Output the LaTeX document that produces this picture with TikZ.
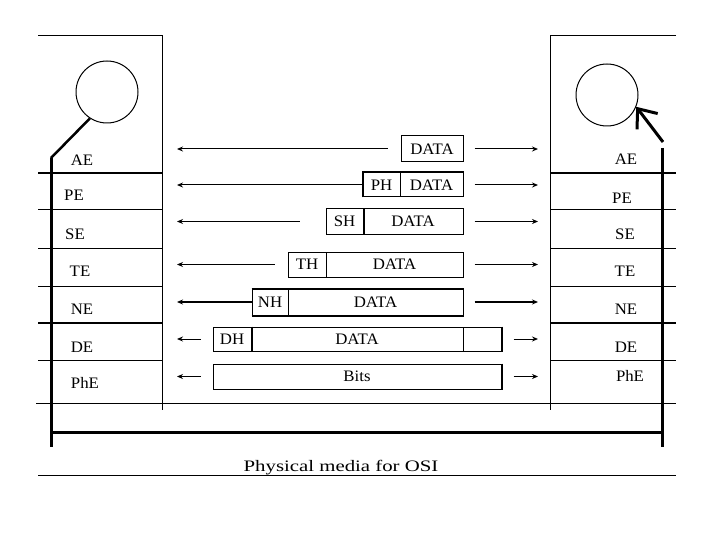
\documentclass[tikz,border=0pt]{standalone}
\usepackage{fontspec}
\setmainfont{Liberation Serif}
\newfontfamily\lblfamily[FakeStretch=1.05]{Liberation Serif}
\newfontfamily\medfamily[FakeStretch=1.3]{Liberation Serif}
\usetikzlibrary{arrows.meta}
\newcommand\osifont{\lblfamily\fontsize{16}{19}\selectfont}
\begin{document}
\begin{tikzpicture}[x=1pt,y=-1pt,
  thin line/.style={line width=1pt},
  thick line/.style={line width=2pt},
  heavy line/.style={line width=3pt},
  cell/.style={draw, line width=1pt, inner sep=0pt, minimum height=25pt,
               text height=10.5pt, text depth=0pt, font=\osifont},
  layer/.style={inner sep=0pt, text height=10.5pt, text depth=0pt, font=\osifont},
  arr/.style={-{Stealth[length=6pt,width=5pt]}, line width=1pt},
  arrb/.style={-{Stealth[length=6pt,width=5pt]}, line width=1.8pt},
  ring/.style={circle, draw, line width=1pt, minimum size=62pt, inner sep=0pt}]
\useasboundingbox (0,0) rectangle (720,540);

% ---------- end systems ----------
\draw[thin line] (38,36) -- (162,36) -- (162,410);
\draw[thin line] (676,36) -- (550,36) -- (550,410);
\foreach \yy in {210,248,286,360} {
  \draw[thin line] (38,\yy) -- (162,\yy);
  \draw[thin line] (550,\yy) -- (676,\yy);
}
\foreach \yy in {173,323} {
  \draw[thick line] (38,\yy) -- (162,\yy);
  \draw[thick line] (550,\yy) -- (676,\yy);
}
\draw[thin line] (36,403) -- (676,403);

\node[ring] (lc) at (107,92) {};
\node[ring] (rc) at (607,95) {};
\coordinate (lt) at (51,158);
\coordinate (lb) at (51,447);
\coordinate (rt) at (662,148);
\coordinate (rs) at (663,142);
\coordinate (rb) at (662,447);
\draw[line width=2.5pt] (lc.237) -- (lt);
\draw[heavy line] (lt) -- (lb);
\draw[heavy line] (rt) -- (rb);
\draw[heavy line, -{Straight Barb[length=16pt,width=26pt,line width=3pt]}] (rs) -- (rc.338);
\draw[heavy line] (51,432) -- (662,432);

% layer labels
\node[layer] (lae) at (82,160) {AE};
\node[layer] (lpe) at (74,195) {PE};
\node[layer] (lse) at (75,234) {SE};
\node[layer] (lte) at (80,271) {TE};
\node[layer] (lne) at (82,309) {NE};
\node[layer] (lde) at (82,347) {DE};
\node[layer] (lphe) at (85,383) {PhE};
\node[layer] (rae) at (626,159) {AE};
\node[layer] (rpe) at (622,198) {PE};
\node[layer] (rse) at (625,234) {SE};
\node[layer] (rte) at (625,271) {TE};
\node[layer] (rne) at (626,309) {NE};
\node[layer] (rde) at (626,347) {DE};
\node[layer] (rphe) at (630,376) {PhE};

% ---------- PDUs ----------
% row 1
\node[cell, minimum width=62pt, minimum height=26pt] (d1) at (432,149) {DATA};
% row 2
\node[cell, minimum width=37pt, minimum height=24pt] (h2) at (381.5,185) {PH};
\node[cell, minimum width=63pt, minimum height=24pt] (d2) at (431.5,185) {DATA};
\draw[thick line] (h2.south west) -- (h2.north west) -- (d2.north east);
% row 3
\node[cell, minimum width=37pt] (h3) at (344.5,221.5) {SH};
\node[cell, minimum width=100pt] (d3) at (413,221.5) {DATA};
\draw[thick line] (h3.north east) -- (h3.south east);
% row 4
\node[cell, minimum width=38pt] (h4) at (307,264.5) {TH};
\node[cell, minimum width=137pt] (d4) at (394.5,264.5) {DATA};
% row 5
\node[cell, minimum width=36pt, minimum height=26pt] (h5) at (270,302) {NH};
\node[cell, minimum width=175pt, minimum height=26pt] (d5) at (375.5,302) {DATA};
\draw[thick line] (h5.north west) -- (d5.north east);
\draw[thick line] (h5.south west) -- (d5.south east);
% row 6
\node[cell, minimum width=38pt, minimum height=24pt] (h6) at (232,339) {DH};
\node[cell, minimum width=212pt, minimum height=24pt] (d6) at (357,339) {DATA};
\node[cell, minimum width=38pt, minimum height=24pt] (t6) at (482,339) {};
\draw[thick line] (h6.north east) -- (h6.south east);
\draw[thick line] (t6.north east) -- (t6.south east);
% row 7
\node[cell, minimum width=288pt] (b7) at (357,376.5) {Bits};
\draw[thick line] (b7.north east) -- (b7.south east);

% arrows
\foreach \n/\yy in {1/149,2/185,3/221.5,4/264.5,5/302,6/339,7/376.5} {
  \coordinate (L\n) at (177,\yy);
  \coordinate (R\n) at (538,\yy);
}
\draw[arr, shorten <=13pt] (d1.west) -- (L1);
\draw[arr, shorten <=11pt] (d1.east) -- (R1);
\draw[arr] (h2.west) -- (L2);
\draw[arr, shorten <=11pt] (d2.east) -- (R2);
\draw[arrb, shorten <=26pt] (h3.west) -- (L3);
\draw[arrb, shorten <=11pt] (d3.east) -- (R3);
\draw[arr, shorten <=13pt] (h4.west) -- (L4);
\draw[arr, shorten <=11pt] (d4.east) -- (R4);
\draw[arrb] (h5.west) -- (L5);
\draw[arrb, shorten <=11pt] (d5.east) -- (R5);
\draw[arr, shorten <=12pt] (h6.west) -- (L6);
\draw[arr, shorten <=12pt] (t6.east) -- (R6);
\draw[arr, shorten <=12pt] (b7.west) -- (L7);
\draw[arr, shorten <=12pt] (b7.east) -- (R7);

% physical medium
\draw[thin line] (38,475) -- (676,475);
\node[font=\medfamily\fontsize{16}{19}\selectfont, anchor=base, inner sep=0pt] (pm) at (341,471) {Physical media for OSI};
\end{tikzpicture}
\end{document}
